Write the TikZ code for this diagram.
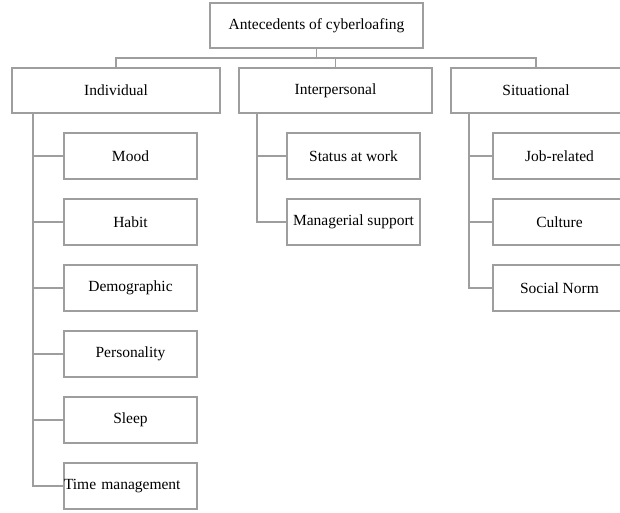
\documentclass[tikz,border=0pt]{standalone}
\usepackage{fontspec}
\setmainfont{Liberation Serif}
\usetikzlibrary{positioning,calc}
\definecolor{linegray}{RGB}{158,158,158}

\begin{document}
\begin{tikzpicture}[x=1pt,y=-1pt,
  box/.style={draw=linegray,line width=1.5pt,minimum height=46pt,inner sep=0pt,outer sep=0pt,font=\fontsize{15.5}{18}\selectfont},
  leaf/.style={box,minimum width=133pt},
  link/.style={draw=linegray,line width=1.5pt}]
  \useasboundingbox (0,0) rectangle (620,512);
  \node[box,minimum width=213pt,minimum height=45pt] (root) at (316.5,25.5) {Antecedents of cyberloafing};
  \node[box,minimum width=208pt,minimum height=45pt] (ind) at (116,90.5) {Individual};
  \node[box,minimum width=193pt,minimum height=45pt,right=19pt of ind] (inter) {Interpersonal};
  \node[box,minimum width=170pt,minimum height=45pt,right=19pt of inter] (sit) {Situational};
  \draw[link] (root.south) |- ($(root.south)!.5!(ind.north)$) -| (ind.north);
  \draw[link] (root.south) |- ($(root.south)!.5!(inter.north)$) -| (inter.north);
  \draw[link] (root.south) |- ($(root.south)!.5!(sit.north)$) -| (sit.north);
  % individual
  \node[leaf] (mood) at (130.5,156) {Mood};
  \node[leaf,below=20pt of mood] (habit) {Habit};
  \node[leaf,below=20pt of habit] (demo) {Demographic};
  \node[leaf,below=20pt of demo] (pers) {Personality};
  \node[leaf,below=20pt of pers] (sleep) {Sleep};
  \node[leaf,below=20pt of sleep,text width=133pt,align=left] (time) {Time management};
  \coordinate (indS) at ([xshift=21pt]ind.south west);
  \draw[link] (indS) |- (mood.west);
  \draw[link] (indS) |- (habit.west);
  \draw[link] (indS) |- (demo.west);
  \draw[link] (indS) |- (pers.west);
  \draw[link] (indS) |- (sleep.west);
  \draw[link] (indS) |- (time.west);
  % interpersonal
  \node[leaf] (status) at (353.5,156) {Status at work};
  \node[leaf,below=20pt of status] (manag) {Managerial support};
  \coordinate (interS) at ([xshift=18pt]inter.south west);
  \draw[link] (interS) |- (status.west);
  \draw[link] (interS) |- (manag.west);
  % situational
  \node[leaf] (job) at (559.5,156) {Job-related};
  \node[leaf,below=20pt of job] (cult) {Culture};
  \node[leaf,below=20pt of cult] (norm) {Social Norm};
  \coordinate (sitS) at ([xshift=18pt]sit.south west);
  \draw[link] (sitS) |- (job.west);
  \draw[link] (sitS) |- (cult.west);
  \draw[link] (sitS) |- (norm.west);
\end{tikzpicture}
\end{document}
